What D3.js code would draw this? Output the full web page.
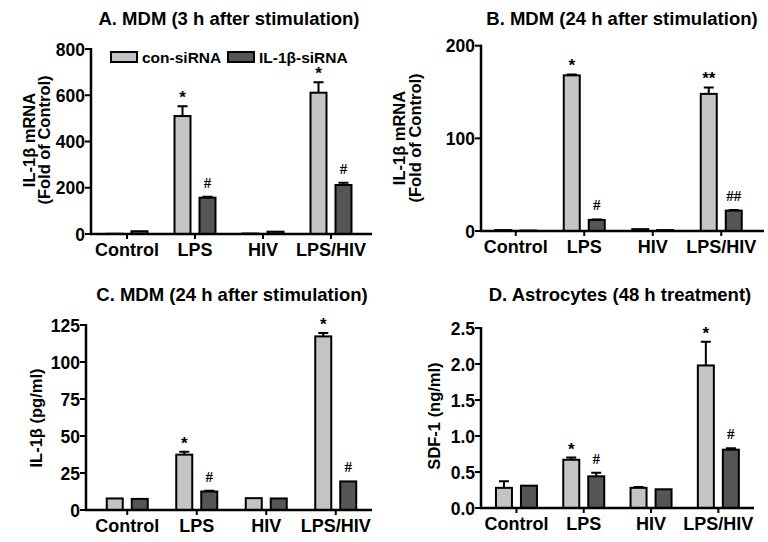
<!DOCTYPE html>
<html>
<head>
<meta charset="utf-8">
<script src="https://cdn.jsdelivr.net/npm/d3@7"></script>
<style>
  body { margin: 0; background: #fff; }
  text { font-family: Arial, "Liberation Sans", sans-serif; font-weight: bold; fill: #000; }
</style>
</head>
<body>
<div id="wrapper"></div>
<script>
// data
const groups = ["Control", "LPS", "HIV", "LPS/HIV"]
const seriesNames = ["con-siRNA", "IL-1\u03b2-siRNA"]

const aCon = [1, 510, 2, 611]
const aConErr = [0, 42, 0, 45]
const aSi = [12, 157, 10, 212]
const aSiErr = [0, 4, 0, 10]
const aConMarks = ["", "*", "", "*"]
const aSiMarks = ["", "#", "", "#"]
const aTicks = [0, 200, 400, 600, 800]

const bCon = [1, 168, 2, 148]
const bConErr = [0, 1, 0, 7]
const bSi = [0.5, 12, 1, 22]
const bSiErr = [0, 0.5, 0, 0.8]
const bConMarks = ["", "*", "", "**"]
const bSiMarks = ["", "#", "", "##"]
const bTicks = [0, 100, 200]

const cCon = [7.8, 37.4, 8, 117.3]
const cConErr = [0, 2, 0, 2.3]
const cSi = [7.5, 12.5, 7.8, 19.3]
const cSiErr = [0, 0.5, 0, 0]
const cConMarks = ["", "*", "", "*"]
const cSiMarks = ["", "#", "", "#"]
const cTicks = [0, 25, 50, 75, 100, 125]

const dCon = [0.28, 0.67, 0.28, 1.98]
const dConErr = [0.09, 0.03, 0.01, 0.33]
const dSi = [0.31, 0.44, 0.26, 0.81]
const dSiErr = [0, 0.05, 0, 0.02]
const dConMarks = ["", "*", "", "*"]
const dSiMarks = ["", "#", "", "#"]
const dTicks = [0, 0.5, 1.0, 1.5, 2.0, 2.5]

const colors = ["#c4c4c4", "#555555"]

// panel layout
const panels = [
  {
    title: "A. MDM (3 h after stimulation)", titleX: 229, titleY: 25,
    x0: 91, x1: 372, band: [93, 365], y0: 234, y1: 49,
    ticks: aTicks, fmt: d3.format("d"),
    ylabel: ["IL-1\u03b2 mRNA", "(Fold of Control)"], labelX: [35, 50], labelY: 140,
    series: [[aCon, aConErr, aConMarks], [aSi, aSiErr, aSiMarks]],
    legend: true
  },
  {
    title: "B. MDM (24 h after stimulation)", titleX: 622, titleY: 25,
    x0: 481, x1: 764, band: [481.5, 755.5], y0: 231, y1: 45.7,
    ticks: bTicks, fmt: d3.format("d"),
    ylabel: ["IL-1\u03b2 mRNA", "(Fold of Control)"], labelX: [405, 421], labelY: 138,
    series: [[bCon, bConErr, bConMarks], [bSi, bSiErr, bSiMarks]]
  },
  {
    title: "C. MDM (24 h after stimulation)", titleX: 232, titleY: 301,
    x0: 86, x1: 372, band: [92.5, 370.5], y0: 510, y1: 325,
    ticks: cTicks, fmt: d3.format("d"),
    ylabel: ["IL-1\u03b2 (pg/ml)"], labelX: [42], labelY: 418,
    series: [[cCon, cConErr, cConMarks], [cSi, cSiErr, cSiMarks]]
  },
  {
    title: "D. Astrocytes (48 h treatment)", titleX: 620, titleY: 301,
    x0: 481, x1: 754, band: [482.8, 752], y0: 508, y1: 328,
    ticks: dTicks, fmt: d3.format(".1f"),
    ylabel: ["SDF-1 (ng/ml)"], labelX: [440], labelY: 416,
    series: [[dCon, dConErr, dConMarks], [dSi, dSiErr, dSiMarks]]
  }
]

const svg = d3.select("#wrapper")
  .append("svg")
    .attr("width", 768)
    .attr("height", 542)

panels.forEach(p => {
  const g = svg.append("g")

  const xScale = d3.scaleBand()
    .domain(groups)
    .range(p.band)
  const yScale = d3.scaleLinear()
    .domain([0, d3.max(p.ticks)])
    .range([p.y0, p.y1])

  const barW = 16
  const offsets = [-12.5, 12.5]
  const cx = d => xScale(d) + xScale.bandwidth() / 2

  // bars
  p.series.forEach(([vals, errs, marks], si) => {
    const data = groups.map((grp, i) => ({ grp, v: vals[i], e: errs[i], m: marks[i] }))
    const sg = g.append("g")

    // error bars (upper only)
    sg.selectAll(".err")
      .data(data.filter(d => d.e > 0))
      .enter().append("path")
        .attr("d", d => {
          const x = cx(d.grp) + offsets[si]
          const yt = yScale(d.v + d.e)
          return `M${x},${yScale(d.v)}V${yt}M${x - 5},${yt}H${x + 5}`
        })
        .attr("stroke", "#000")
        .attr("stroke-width", 2)
        .attr("fill", "none")

    sg.selectAll("rect")
      .data(data)
      .enter().append("rect")
        .attr("x", d => cx(d.grp) + offsets[si] - barW / 2)
        .attr("y", d => yScale(d.v))
        .attr("width", barW)
        .attr("height", d => p.y0 - yScale(d.v))
        .attr("fill", colors[si])
        .attr("stroke", "#000")
        .attr("stroke-width", 2)

    sg.selectAll(".mark")
      .data(data.filter(d => d.m))
      .enter().append("text")
        .attr("x", d => cx(d.grp) + offsets[si])
        .attr("y", d => yScale(d.v + d.e) - (d.m[0] === "*" ? 3 : 9))
        .attr("text-anchor", "middle")
        .style("font-size", d => d.m[0] === "*" ? "17px" : "15px")
        .style("font-family", d => d.m[0] === "*" ? "Arial, sans-serif" : "'Liberation Serif', serif")
        .text(d => d.m)
  })

  // axes
  g.append("line")
    .attr("x1", p.x0).attr("x2", p.x0)
    .attr("y1", yScale(d3.max(p.ticks)) - 1).attr("y2", p.y0 + 1)
    .attr("stroke", "#000").attr("stroke-width", 2.5)
  g.append("line")
    .attr("x1", p.x0 - 1).attr("x2", p.x1)
    .attr("y1", p.y0).attr("y2", p.y0)
    .attr("stroke", "#000").attr("stroke-width", 2.5)

  g.selectAll(".ytick")
    .data(p.ticks)
    .enter().append("line")
      .attr("x1", p.x0 - 6).attr("x2", p.x0)
      .attr("y1", d => yScale(d)).attr("y2", d => yScale(d))
      .attr("stroke", "#000").attr("stroke-width", 2)
  g.selectAll(".ylab")
    .data(p.ticks)
    .enter().append("text")
      .attr("x", p.x0 - 6)
      .attr("y", d => yScale(d) + 6.5)
      .attr("text-anchor", "end")
      .style("font-size", "17.5px")
      .text(d => p.fmt(d))

  g.selectAll(".xtick")
    .data(groups)
    .enter().append("line")
      .attr("x1", cx).attr("x2", cx)
      .attr("y1", p.y0).attr("y2", p.y0 + 5)
      .attr("stroke", "#000").attr("stroke-width", 2)
  g.selectAll(".xlab")
    .data(groups)
    .enter().append("text")
      .attr("x", cx)
      .attr("y", p.y0 + 22)
      .attr("text-anchor", "middle")
      .style("font-size", "18px")
      .text(d => d)

  // y label
  p.ylabel.forEach((t, i) => {
    g.append("text")
      .attr("transform", `translate(${p.labelX[i]},${p.labelY}) rotate(-90)`)
      .attr("text-anchor", "middle")
      .style("font-size", "16.5px")
      .text(t)
  })

  // title
  g.append("text")
    .attr("x", p.titleX)
    .attr("y", p.titleY)
    .attr("text-anchor", "middle")
    .style("font-size", "18.5px")
    .text(p.title)

  // legend
  if (p.legend) {
    const lx = [111, 228]
    seriesNames.forEach((name, i) => {
      g.append("rect")
        .attr("x", lx[i]).attr("y", 52)
        .attr("width", 26).attr("height", 10)
        .attr("fill", colors[i])
        .attr("stroke", "#000").attr("stroke-width", 2)
      g.append("text")
        .attr("x", lx[i] + 31).attr("y", 62.5)
        .style("font-size", "15.5px")
        .text(name)
    })
  }
})
</script>
</body>
</html>
